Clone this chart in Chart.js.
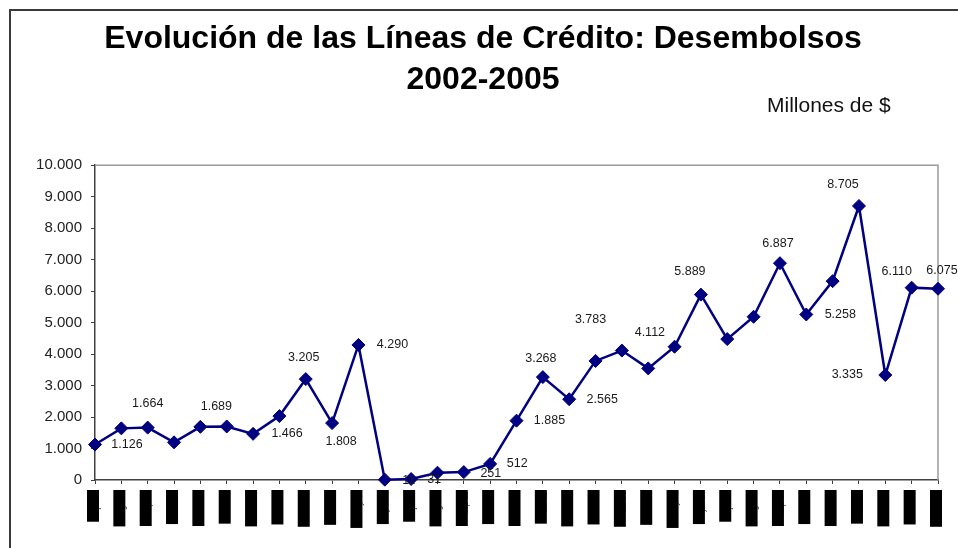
<!DOCTYPE html>
<html>
<head>
<meta charset="utf-8">
<title>Evolución de las Líneas de Crédito: Desembolsos</title>
<script src="https://cdn.jsdelivr.net/npm/chart.js@4.4.1/dist/chart.umd.min.js"></script>
<style>
	html, body { margin: 0; padding: 0; background: #fff; }
</style>
</head>
<body>
<canvas id="mycanvas" width="958" height="548"></canvas>
<script>
// meses (jul-02 .. mar-05)
var meses = ['jul-02','ago-02','sep-02','oct-02','nov-02','dic-02',
	'ene-03','feb-03','mar-03','abr-03','may-03','jun-03','jul-03','ago-03','sep-03','oct-03','nov-03','dic-03',
	'ene-04','feb-04','mar-04','abr-04','may-04','jun-04','jul-04','ago-04','sep-04','oct-04','nov-04','dic-04',
	'ene-05','feb-05','mar-05'];

// desembolsos, millones de $
var desembolsos = [1126, 1640, 1664, 1196, 1689, 1700,
	1466, 2030, 3205, 1808, 4290, 11, 31, 232, 251, 512, 1885, 3268,
	2565, 3783, 4112, 3545, 4233, 5889, 4476, 5185, 6887, 5258, 6317, 8705,
	3335, 6110, 6075];

var titulo = ['Evolución de las Líneas de Crédito: Desembolsos', '2002-2005'];
var unidad = 'Millones de $';

function fmt(v) {
	return String(v).replace(/\B(?=(\d{3})+(?!\d))/g, '.');
}

// where each value label sits, relative to its point (index: [dx, dy])
var posEtiquetas = {
	0: [32, 0], 2: [0, -24], 4: [16, -20], 6: [34, 0], 8: [-2, -22], 9: [9, 18],
	10: [34, 0], 11: [24, 1], 12: [23, 1], 14: [27, 1], 15: [27, 0], 16: [33, 0],
	17: [-2, -19], 18: [33, 0], 19: [-5, -41], 20: [28, -18], 23: [-11, -23],
	26: [-2, -20], 27: [34, 0], 29: [-16, -21], 30: [-38, 0], 31: [-15, -16], 32: [4, -18]
};

var marco = {
	id: 'marco',
	beforeDraw: function(chart) {
		var ctx = chart.ctx;
		ctx.save();
		ctx.fillStyle = '#fff';
		ctx.fillRect(0, 0, chart.width, chart.height);
		ctx.strokeStyle = '#3a3a3a';
		ctx.lineWidth = 2;
		ctx.beginPath();
		ctx.moveTo(10, chart.height);
		ctx.lineTo(10, 10);
		ctx.lineTo(chart.width, 10);
		ctx.stroke();
		ctx.restore();
	},
	beforeDatasetsDraw: function(chart) {
		var a = chart.chartArea, ctx = chart.ctx;
		ctx.save();
		ctx.strokeStyle = '#9a9a9a';
		ctx.lineWidth = 1.5;
		ctx.beginPath();
		ctx.moveTo(a.left, a.top);
		ctx.lineTo(a.right, a.top);
		ctx.lineTo(a.right, a.bottom);
		ctx.stroke();
		ctx.restore();
	},
	afterDraw: function(chart) {
		var ctx = chart.ctx, a = chart.chartArea;
		ctx.save();
		ctx.fillStyle = '#111';
		ctx.font = '21px "Liberation Sans", Arial, sans-serif';
		ctx.textAlign = 'left';
		ctx.textBaseline = 'alphabetic';
		ctx.fillText(unidad, a.right - 171, 111.5);

		var meta = chart.getDatasetMeta(0);
		ctx.fillStyle = '#1a1a1a';
		ctx.font = '12.5px "Liberation Sans", Arial, sans-serif';
		ctx.textAlign = 'center';
		ctx.textBaseline = 'middle';
		for (var i in posEtiquetas) {
			var p = meta.data[i];
			ctx.fillText(fmt(desembolsos[i]), p.x + posEtiquetas[i][0], p.y + posEtiquetas[i][1]);
		}
		ctx.restore();
	}
};

var ctx = document.getElementById('mycanvas');

var grafico = new Chart(ctx, {
	type: 'line',
	data: {
		labels: meses,
		datasets: [{
			label: 'Desembolsos',
			data: desembolsos,
			fill: false,
			tension: 0,
			borderColor: '#000080',
			borderWidth: 2.5,
			pointStyle: 'rectRot',
			pointRadius: 6.5,
			pointBackgroundColor: '#000080',
			pointBorderColor: '#000080',
			pointBorderWidth: 1,
			clip: false
		}]
	},
	options: {
		responsive: false,
		animation: false,
		devicePixelRatio: 1,
		layout: { padding: { left: 8, right: 0, top: 0, bottom: 0 } },
		plugins: {
			legend: { display: false },
			tooltip: { enabled: false },
			title: {
				display: true,
				text: titulo,
				color: '#000',
				font: { family: '"Liberation Sans", Arial, sans-serif', size: 32, weight: 'bold', lineHeight: 1.3 },
				padding: { top: 18, bottom: 64 }
			}
		},
		scales: {
			x: {
				type: 'category',
				offset: false,
				grid: { display: true, drawOnChartArea: false, drawTicks: true, tickLength: 4, color: '#404040' },
				border: { display: true, color: '#404040', width: 1.5 },
				ticks: {
					autoSkip: false,
					minRotation: 90,
					maxRotation: 90,
					padding: 8,
					color: '#000',
					font: { family: '"Liberation Sans", Arial, sans-serif', size: 7, lineHeight: 0.5 },
					showLabelBackdrop: true,
					backdropColor: '#000',
					backdropPadding: { top: 8, bottom: 0.5, left: 12.6, right: 2 }
				},
				afterFit: function(s) { s.height = 68; }
			},
			y: {
				min: 0,
				max: 10000,
				grid: { display: true, drawOnChartArea: false, drawTicks: true, tickLength: 4, color: '#404040' },
				border: { display: true, color: '#404040', width: 1.5 },
				ticks: {
					stepSize: 1000,
					padding: 9,
					color: '#222',
					font: { family: '"Liberation Sans", Arial, sans-serif', size: 15 },
					callback: function(v) { return fmt(v); }
				},
				afterFit: function(s) { s.width = 87; }
			},
			y2: {
				position: 'right',
				display: true,
				grid: { display: false },
				border: { display: false },
				ticks: { display: false },
				afterFit: function(s) { s.width = 20; }
			}
		}
	},
	plugins: [marco]
});
</script>
</body>
</html>
